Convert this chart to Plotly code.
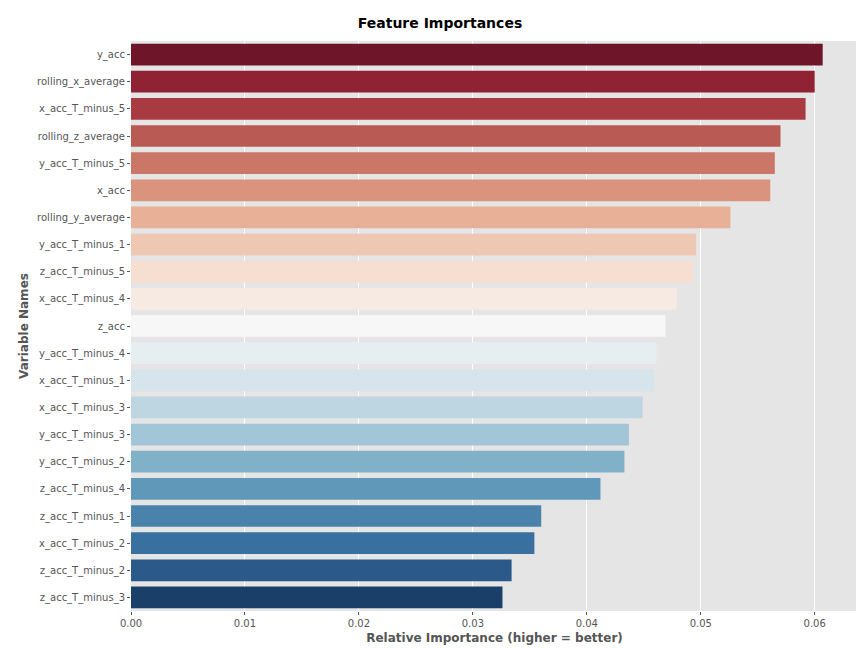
import colorsys
import plotly.graph_objects as go
from plotly.colors import sample_colorscale

features = ["y_acc", "rolling_x_average", "x_acc_T_minus_5", "rolling_z_average",
            "y_acc_T_minus_5", "x_acc", "rolling_y_average", "y_acc_T_minus_1",
            "z_acc_T_minus_5", "x_acc_T_minus_4", "z_acc", "y_acc_T_minus_4",
            "x_acc_T_minus_1", "x_acc_T_minus_3", "y_acc_T_minus_3", "y_acc_T_minus_2",
            "z_acc_T_minus_4", "z_acc_T_minus_1", "x_acc_T_minus_2", "z_acc_T_minus_2",
            "z_acc_T_minus_3"]
importance = [0.0607, 0.0600, 0.0592, 0.0570, 0.0565, 0.0561, 0.0526, 0.0496,
              0.0493, 0.0479, 0.0469, 0.0461, 0.0459, 0.0449, 0.0437, 0.0433,
              0.0412, 0.0360, 0.0354, 0.0334, 0.0326]

brewer = ["#67001f", "#b2182b", "#d6604d", "#f4a582", "#fddbc7", "#f7f7f7",
          "#d1e5f0", "#92c5de", "#4393c3", "#2166ac", "#053061"]
scale = [[i / 10, c] for i, c in enumerate(brewer)]
raw = sample_colorscale(scale, [0.03 + 0.94 * i / 20 for i in range(21)])

def desat(c, p=0.75):
    r, g, b = [float(v) / 255 for v in c[c.index("(") + 1:-1].split(",")]
    h, l, s = colorsys.rgb_to_hls(r, g, b)
    r, g, b = colorsys.hls_to_rgb(h, l, s * p)
    return "rgb(%d,%d,%d)" % (r * 255, g * 255, b * 255)

colors = [desat(c) for c in raw]

fig = go.Figure()
fig.add_bar(x=importance, y=features, orientation="h", marker_color=colors,
            marker_line_width=0)
fig.update_layout(
    width=864, height=648,
    margin=dict(l=123, r=14, t=33, b=45),
    title=dict(text="<b>Feature Importances</b>", x=0.5, xanchor="center", y=0.985,
               font=dict(size=14, color="black", family="DejaVu Sans")),
    plot_bgcolor="#e5e5e5", paper_bgcolor="white",
    bargap=0.2, showlegend=False,
    font=dict(family="DejaVu Sans", size=10, color="#555555"),
)
fig.update_xaxes(range=[0, 0.0638], tickvals=[0, 0.01, 0.02, 0.03, 0.04, 0.05, 0.06],
                 ticktext=["0.00", "0.01", "0.02", "0.03", "0.04", "0.05", "0.06"],
                 gridcolor="white", showline=False, zeroline=False, ticks="outside",
                 tickcolor="#555555", ticklen=3,
                 title=dict(text="<b>Relative Importance (higher = better)</b>",
                            font=dict(size=12, color="#555555"), standoff=5))
fig.update_yaxes(autorange="reversed", showgrid=False, ticks="outside", ticklen=3,
                 tickcolor="#555555",
                 title=dict(text="<b>Variable Names</b>",
                            font=dict(size=12, color="#555555"), standoff=5))
fig.write_html("out.html")
